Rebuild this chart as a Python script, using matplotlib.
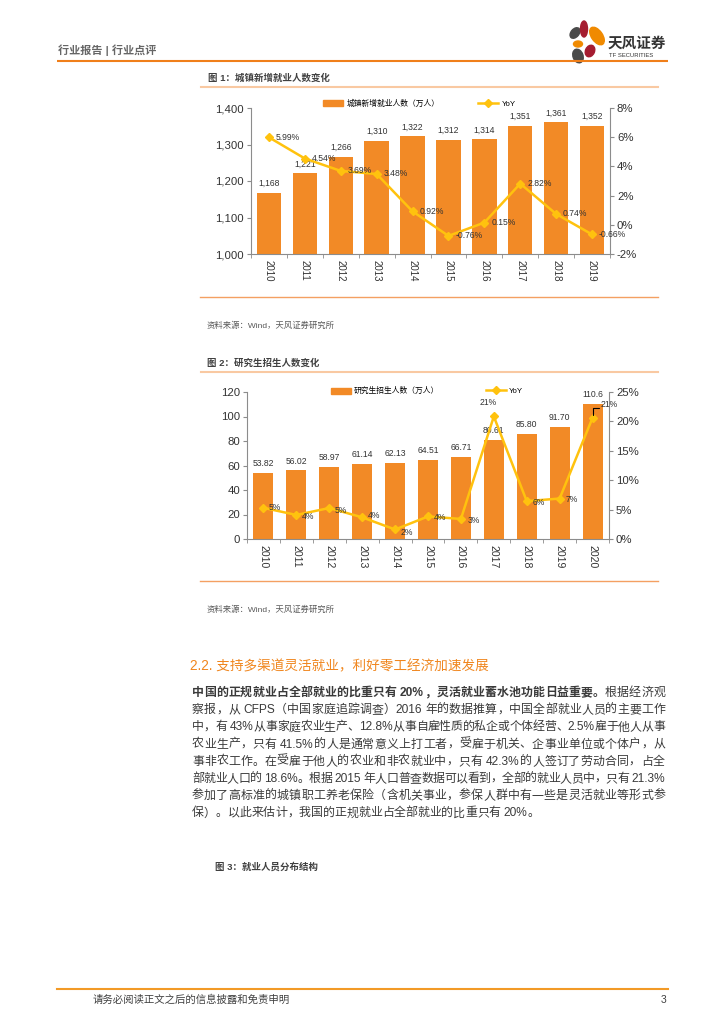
import matplotlib
matplotlib.use('Agg')
import matplotlib.pyplot as plt
from matplotlib.patches import Ellipse, Patch
from matplotlib.lines import Line2D
from matplotlib.ticker import FuncFormatter

plt.rcParams['font.family'] = ['Liberation Sans', 'Noto Sans CJK SC', 'DejaVu Sans']

# 图1 数据
years1 = ['2010', '2011', '2012', '2013', '2014', '2015', '2016', '2017', '2018', '2019']
jobs = [1168, 1221, 1266, 1310, 1322, 1312, 1314, 1351, 1361, 1352]
jobs_yoy = [5.99, 4.54, 3.69, 3.48, 0.92, -0.76, 0.15, 2.82, 0.74, -0.66]

# 图2 数据
years2 = ['2010', '2011', '2012', '2013', '2014', '2015', '2016', '2017', '2018', '2019', '2020']
students = [53.82, 56.02, 58.97, 61.14, 62.13, 64.51, 66.71, 80.61, 85.80, 91.70, 110.6]
students_yoy = [5.3, 4.09, 5.27, 3.68, 1.62, 3.83, 3.41, 20.84, 6.44, 6.88, 20.61]
# 标签偏移（points）
yoy2_offsets = [(4, 0), (4, -1), (4, -2), (4, 1), (4, -2), (4, -1), (5, -1), (-4, 7), (4, -1), (4, -1), (6, 6)]

heading = '2.2. 支持多渠道灵活就业，利好零工经济加速发展'
body_bold = '中国的正规就业占全部就业的比重只有 20%，灵活就业蓄水池功能日益重要。'
body_lines = [
    '根据经济观',
    '察报，从 CFPS（中国家庭追踪调查）2016 年的数据推算，中国全部就业人员的主要工作',
    '中，有 43%从事家庭农业生产、12.8%从事自雇性质的私企或个体经营、2.5%雇于他人从事',
    '农业生产，只有 41.5%的人是通常意义上打工者，受雇于机关、企事业单位或个体户，从',
    '事非农工作。在受雇于他人的农业和非农就业中，只有 42.3%的人签订了劳动合同，占全',
    '部就业人口的 18.6%。根据 2015 年人口普查数据可以看到，全部的就业人员中，只有 21.3%',
    '参加了高标准的城镇职工养老保险（含机关事业，参保人群中有一些是灵活就业等形式参',
    '保）。以此来估计，我国的正规就业占全部就业的比重只有 20%。',
]

BAR = '#F28A26'
LINE = '#FFC20E'
ORANGE = '#F07F1A'
LIGHT = '#F9C9A2'
AXC = '#8C8C8C'
TXT = '#333333'

fig = plt.figure(figsize=(7.24, 10.24), dpi=100)
renderer = fig.canvas.get_renderer()

# 整页坐标，单位为像素
page = fig.add_axes([0, 0, 1, 1])
page.set_xlim(0, 724)
page.set_ylim(1024, 0)
page.axis('off')

# 页眉
page.text(58, 50, '行业报告 | 行业点评', fontsize=8, weight='bold', color='#666666', va='center')
page.plot([57, 668], [61, 61], color=ORANGE, lw=1.5, solid_capstyle='butt')
for cx, cy, w, h, ang, c in [(575, 33, 8, 12, 40, '#4A4A4A'), (584, 29, 7, 16, 0, '#A51C30'),
                             (597, 36, 11, 20, -35, '#F08A00'), (578, 44, 9, 6, 0, '#F08A00'),
                             (590, 51, 9, 12, 25, '#A51C30'), (578, 56, 10, 14, -20, '#4A4A4A')]:
    page.add_patch(Ellipse((cx, cy), w, h, angle=ang, color=c))
page.text(608, 44, '天风证券', fontsize=10.5, weight='bold', color='#333333', va='center')
page.text(609, 55.5, 'TF SECURITIES', fontsize=4.2, color='#333333', va='center')

# 图标题与分隔线
page.text(208, 78, '图 1：城镇新增就业人数变化', fontsize=6.8, weight='bold', color='#404040', va='center')
page.plot([201, 658], [87, 87], color=LIGHT, lw=1.5)
page.plot([200, 658], [297, 297], color='#F4A062', lw=1)
page.text(207, 326, '资料来源：Wind，天风证券研究所', fontsize=6, color='#595959', va='center')

page.text(207, 363, '图 2：研究生招生人数变化', fontsize=6.8, weight='bold', color='#404040', va='center')
page.plot([201, 658], [372, 372], color=LIGHT, lw=1.5)
page.plot([200, 658], [581, 581], color='#F4A062', lw=1)
page.text(207, 610, '资料来源：Wind，天风证券研究所', fontsize=6, color='#595959', va='center')

page.text(190, 666, heading, fontsize=9.8, color='#F0861E', va='center')


def chunks_of(s, weight):
    out = []
    buf = ''
    for ch in s:
        if ord(ch) < 128 and ch != ' ':
            buf += ch
        else:
            if buf:
                out.append((buf, weight))
                buf = ''
            out.append((ch, weight))
    if buf:
        out.append((buf, weight))
    return out


def draw_line(segs, y, justify=True, x0=192, x1=665, size=8.6):
    parts = []
    for s, w in segs:
        parts += chunks_of(s, w)
    widths = []
    for t, w in parts:
        if t == ' ':
            widths.append(size * 0.35)
            continue
        tx = page.text(0, 0, t, fontsize=size, weight=w)
        widths.append(tx.get_window_extent(renderer).width)
        tx.remove()
    gap = (x1 - x0 - sum(widths)) / (len(parts) - 1) if justify else 0
    x = x0
    for (t, w), wd in zip(parts, widths):
        if t != ' ':
            page.text(x, y, t, fontsize=size, weight=w, color='#3A3A3A', va='center')
        x += wd + gap


for i, line in enumerate(body_lines):
    segs = [(line, 'normal')]
    if i == 0:
        segs = [(body_bold, 'bold')] + segs
    draw_line(segs, 693 + i * 17.2, justify=(i < len(body_lines) - 1))

page.text(215, 867, '图 3：就业人员分布结构', fontsize=6.8, weight='bold', color='#404040', va='center')

# 页脚
page.plot([57, 668], [989, 989], color='#F29A26', lw=1.5)
page.text(93, 1000, '请务必阅读正文之后的信息披露和免责申明', fontsize=7.5, color='#404040', va='center')
page.text(666, 1000, '3', fontsize=7.5, color='#404040', va='center', ha='right')


def style_axes(ax, axr, n, year_labels, year_size):
    ax.set_xlim(-0.5, n - 0.5)
    ax.set_xticks(range(n))
    ax.set_xticklabels(year_labels, rotation=270, fontsize=year_size, color=TXT)
    ax.set_xticks([i - 0.5 for i in range(n + 1)], minor=True)
    ax.tick_params(axis='x', which='major', length=0, pad=4)
    ax.tick_params(axis='x', which='minor', length=3, color=AXC)
    ax.tick_params(axis='y', length=3, labelsize=8.2, color=AXC, labelcolor=TXT, pad=2)
    axr.tick_params(axis='y', length=3, labelsize=8.2, color=AXC, labelcolor=TXT, pad=2)
    ax.spines['top'].set_visible(False)
    for s in ['left', 'bottom']:
        ax.spines[s].set_color(AXC)
        ax.spines[s].set_linewidth(0.8)
    ax.spines['right'].set_visible(False)
    for s in ['top', 'left', 'bottom']:
        axr.spines[s].set_visible(False)
    axr.spines['right'].set_color(AXC)
    axr.spines['right'].set_linewidth(0.8)
    ax.set_facecolor('none')
    axr.yaxis.set_major_formatter(FuncFormatter(lambda v, p: f'{v:.0f}%'))


# 图1
ax1 = fig.add_axes([251 / 724, 1 - 254 / 1024, 359 / 724, 146 / 1024])
ax1.bar(range(len(years1)), jobs, width=0.68, color=BAR, zorder=2)
ax1.set_ylim(1000, 1400)
ax1.set_yticks(range(1000, 1401, 100))
ax1.yaxis.set_major_formatter(FuncFormatter(lambda v, p: f'{int(v):,}'))
for i, v in enumerate(jobs):
    ax1.annotate(f'{v:,}', (i, v), xytext=(0, 3.5), textcoords='offset points',
                 ha='center', va='bottom', fontsize=6.2, color=TXT)
ax1r = ax1.twinx()
ax1r.plot(range(len(years1)), jobs_yoy, color=LINE, lw=1.8, marker='D', ms=4)
ax1r.set_ylim(-2, 8)
ax1r.set_yticks(range(-2, 9, 2))
for i, v in enumerate(jobs_yoy):
    ax1r.annotate(f'{v:.2f}%', (i, v), xytext=(5, 0), textcoords='offset points',
                  ha='left', va='center', fontsize=6.2, color=TXT)
style_axes(ax1, ax1r, len(years1), years1, 7.0)
h1 = [Patch(color=BAR, label='城镇新增就业人数（万人）'),
      Line2D([], [], color=LINE, lw=1.8, marker='D', ms=4, label='YoY')]
ax1r.legend(handles=h1, loc='center left', bbox_to_anchor=(0.2, 1.027), ncol=2, frameon=False,
            fontsize=5.6, handlelength=2.6, handleheight=0.8, handletextpad=0.5,
            columnspacing=4.9, borderaxespad=0, borderpad=0)

# 图2
ax2 = fig.add_axes([247 / 724, 1 - 539 / 1024, 362 / 724, 147 / 1024])
ax2.bar(range(len(years2)), students, width=0.61, color=BAR, zorder=2)
ax2.set_ylim(0, 120)
ax2.set_yticks(range(0, 121, 20))
for i, v in enumerate(students):
    ax2.annotate(f'{v:.2f}'[:5], (i, v), xytext=(0, 3.5), textcoords='offset points',
                 ha='center', va='bottom', fontsize=6.2, color=TXT)
ax2r = ax2.twinx()
ax2r.plot(range(len(years2)), students_yoy, color=LINE, lw=1.8, marker='D', ms=4)
ax2r.set_ylim(0, 25)
ax2r.set_yticks(range(0, 26, 5))
for i, (v, off) in enumerate(zip(students_yoy, yoy2_offsets)):
    ha = 'center' if off[0] < 0 else 'left'
    va = 'bottom' if off[1] > 3 else 'center'
    ax2r.annotate(f'{v:.0f}%', (i, v), xytext=off, textcoords='offset points',
                  ha=ha, va=va, fontsize=6.2, color=TXT)
ax2r.annotate('', (len(years2) - 1, students_yoy[-1]), xytext=(5, 7), textcoords='offset points',
              arrowprops=dict(arrowstyle='-', color='black', lw=0.8, shrinkA=0, shrinkB=2,
                              connectionstyle='angle,angleA=0,angleB=90,rad=0'))
style_axes(ax2, ax2r, len(years2), years2, 7.6)
h2 = [Patch(color=BAR, label='研究生招生人数（万人）'),
      Line2D([], [], color=LINE, lw=1.8, marker='D', ms=4, label='YoY')]
ax2r.legend(handles=h2, loc='center left', bbox_to_anchor=(0.232, 1.005), ncol=2, frameon=False,
            fontsize=5.6, handlelength=2.6, handleheight=0.8, handletextpad=0.3,
            columnspacing=6.1, borderaxespad=0, borderpad=0)

fig.savefig('out.png', dpi=100)
